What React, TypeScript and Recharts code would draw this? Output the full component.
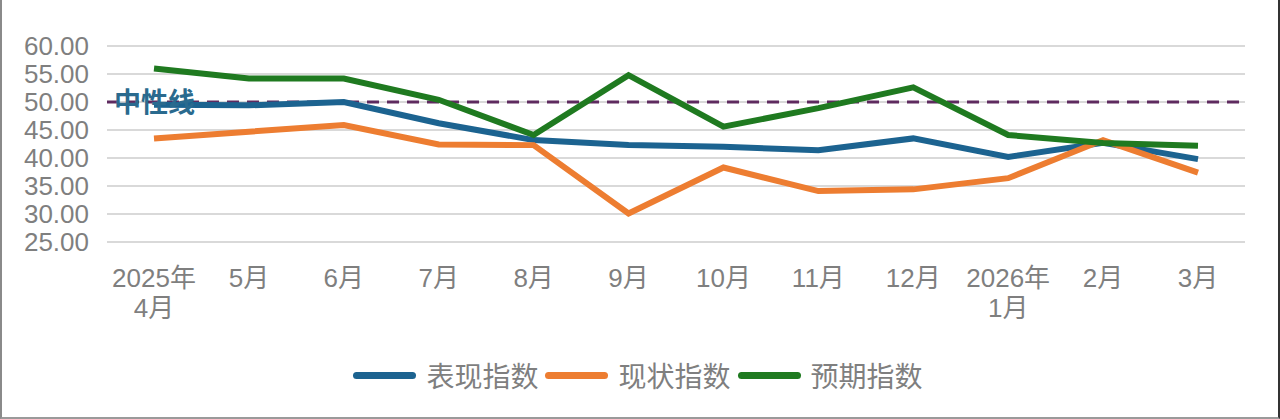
import React from "react";
import { LineChart, Line, XAxis, YAxis, CartesianGrid, ReferenceLine, Legend } from "recharts";

const months = ["2025年\n4月", "5月", "6月", "7月", "8月", "9月", "10月", "11月", "12月", "2026年\n1月", "2月", "3月"];
const performance = [49.5, 49.4, 50.0, 46.2, 43.2, 42.3, 42.0, 41.4, 43.5, 40.2, 42.7, 39.8];
const current = [43.5, 44.7, 45.9, 42.4, 42.3, 30.1, 38.3, 34.1, 34.4, 36.4, 43.2, 37.4];
const expected = [56.0, 54.2, 54.2, 50.4, 44.1, 54.8, 45.6, 48.9, 52.6, 44.1, 42.7, 42.2];
const yTicks = [25, 30, 35, 40, 45, 50, 55, 60];

const series = [
  { key: "perf", name: "表现指数", color: "#1C6390" },
  { key: "cur", name: "现状指数", color: "#ED7D31" },
  { key: "exp", name: "预期指数", color: "#1F7A20" },
];

const data = months.map((m, i) => ({ month: m, perf: performance[i], cur: current[i], exp: expected[i] }));

const FONT = "'Liberation Sans', 'Noto Sans CJK SC', sans-serif";
const GRAY = "#7F7F7F";

function MonthTick(props: any) {
  const { x, y, payload } = props;
  const lines = String(payload.value).split("\n");
  return (
    <text x={x} y={y} textAnchor="middle" fill={GRAY} fontSize={26} fontFamily={FONT}>
      {lines.map((l, i) => (
        <tspan key={i} x={x} dy={i === 0 ? 37 : 30}>
          {l}
        </tspan>
      ))}
    </text>
  );
}

function LegendContent() {
  return (
    <div style={{ display: "flex", justifyContent: "center", alignItems: "center", fontFamily: FONT, paddingLeft: 36 }}>
      {series.map((s) => (
        <div key={s.key} style={{ display: "flex", alignItems: "center", marginRight: 7 }}>
          <div style={{ width: 63, height: 7, borderRadius: 4, background: s.color, marginRight: 10 }} />
          <span style={{ fontSize: 28, color: GRAY }}>{s.name}</span>
        </div>
      ))}
    </div>
  );
}

export default function App() {
  return (
    <div style={{ position: "absolute", left: 0, top: 0, width: 1280, height: 419, background: "#fff", boxSizing: "border-box", borderLeft: "2px solid #8a8a8a", borderRight: "2px solid #333", borderBottom: "2px solid #9a9a9a" }}>
      <LineChart width={1276} height={417} data={data} margin={{ top: 46, right: 33, left: 0, bottom: 22 }}>
        <CartesianGrid vertical={false} stroke="#D9D9D9" strokeWidth={2} />
        <XAxis
          dataKey="month"
          axisLine={false}
          tickLine={false}
          interval={0}
          padding={{ left: 47, right: 47 }}
          height={113}
          tick={<MonthTick />}
        />
        <YAxis
          domain={[25, 60]}
          ticks={yTicks}
          interval={0}
          width={105}
          axisLine={false}
          tickLine={false}
          tickFormatter={(v: number) => v.toFixed(2)}
          tick={{ fill: GRAY, fontSize: 26, fontFamily: FONT, dx: -10 }}
        />
        <ReferenceLine
          y={50}
          stroke="#5E2A5F"
          strokeWidth={3}
          strokeDasharray="12 8"
          label={{ value: "中性线", position: "insideLeft", fill: "#2A6A8E", fontSize: 27, fontWeight: 700, fontFamily: FONT, dx: 2 }}
        />
        {series.map((s) => (
          <Line
            key={s.key}
            dataKey={s.key}
            name={s.name}
            stroke={s.color}
            strokeWidth={6}
            dot={false}
            type="linear"
            isAnimationActive={false}
          />
        ))}
        <Legend verticalAlign="bottom" height={40} content={<LegendContent />} />
      </LineChart>
    </div>
  );
}
